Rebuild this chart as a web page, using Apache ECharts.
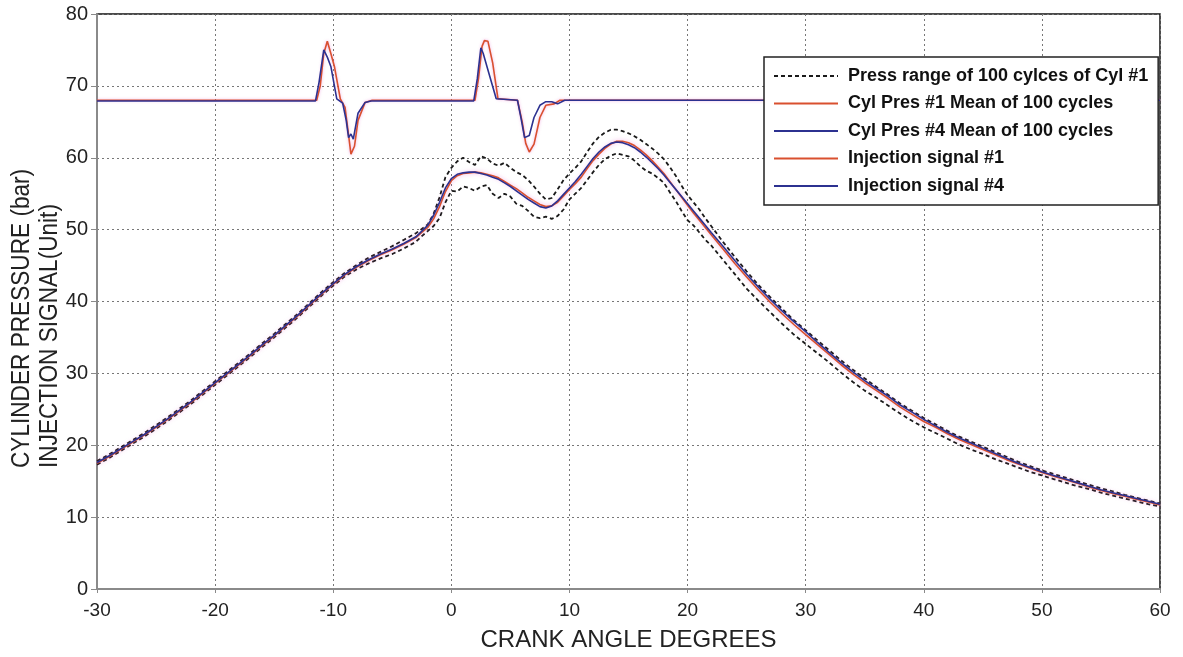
<!DOCTYPE html>
<html>
<head>
<meta charset="utf-8">
<script src="https://cdn.jsdelivr.net/npm/echarts@6/dist/echarts.min.js"></script>
<style>html,body{margin:0;padding:0;background:#fff;}#c{width:1183px;height:657px;}</style>
</head>
<body>
<div id="c"></div>
<script>
// ---- data ----
const angles = [-30,-29,-28,-27,-26,-25,-24,-23,-22,-21,-20,-19,-18,-17,-16,-15,-14,-13,-12,-11,-10,-9,-8,-7,-6,-5,-4,
  -3,-2.5,-2,-1.5,-1,-0.5,0,0.5,1,1.5,2,2.5,3,3.5,4,4.5,5,5.5,6,6.5,7,7.5,8,8.5,9,9.5,10,10.5,11,11.5,12,12.5,13,13.5,14,14.5,15,15.5,16,16.5,17,17.5,18,18.5,19,19.5,20,20.5,21,21.5,22,
  23,24,25,26,27,28,29,30,31,32,33,34,35,36,37,38,39,40,41,42,43,44,45,46,47,48,49,50,51,52,53,54,55,56,57,58,59,60];

const meanCyl1 = [17.5,18.4,19.4,20.4,21.4,22.5,23.6,24.8,26.0,27.3,28.6,29.9,31.2,32.5,33.9,35.2,36.6,38.0,39.5,41.0,42.4,43.7,44.8,45.7,46.5,47.2,48.0,
  48.9,49.6,50.3,51.5,53.2,55.3,56.8,57.5,57.8,57.9,58.0,57.9,57.7,57.5,57.2,56.7,56.2,55.7,55.1,54.5,54.0,53.5,53.2,53.3,53.8,54.7,55.6,56.4,57.3,58.5,59.6,60.5,61.3,61.9,62.3,62.3,62.1,61.7,61.1,60.4,59.6,58.7,57.8,56.7,55.6,54.5,53.4,52.3,51.3,50.3,49.3,
  47.3,45.3,43.4,41.6,39.9,38.3,36.8,35.4,34.0,32.6,31.2,29.9,28.7,27.6,26.5,25.3,24.3,23.3,22.5,21.6,20.8,20.1,19.4,18.7,18.0,17.4,16.8,16.2,15.7,15.2,14.7,14.2,13.7,13.3,12.9,12.5,12.1,11.7];

const meanCyl4 = [17.6,18.5,19.5,20.5,21.5,22.6,23.7,24.9,26.1,27.4,28.7,30.0,31.3,32.6,34.0,35.3,36.7,38.1,39.6,41.1,42.5,43.8,44.9,45.8,46.6,47.3,48.1,
  49.0,49.8,50.6,52.0,53.8,55.8,57.1,57.7,57.9,58.0,58.0,57.8,57.6,57.3,57.0,56.5,56.0,55.4,54.8,54.2,53.7,53.2,53.0,53.3,54.0,54.9,55.8,56.7,57.7,58.8,59.9,60.8,61.5,62.0,62.2,62.1,61.8,61.4,60.8,60.1,59.3,58.5,57.6,56.6,55.6,54.6,53.6,52.6,51.6,50.6,49.6,
  47.7,45.7,43.8,42.0,40.3,38.7,37.2,35.8,34.3,32.9,31.5,30.2,29.0,27.9,26.8,25.6,24.6,23.6,22.7,21.8,21.0,20.3,19.6,18.9,18.2,17.5,16.9,16.3,15.8,15.3,14.8,14.3,13.8,13.4,13.0,12.6,12.2,11.8];

const rangeUpper = [17.8,18.7,19.7,20.7,21.7,22.8,23.9,25.1,26.3,27.6,28.9,30.2,31.5,32.8,34.2,35.5,36.9,38.3,39.8,41.3,42.7,44.0,45.1,46.1,46.9,47.7,48.6,
  49.5,50.1,50.7,52.2,54.5,57.3,58.6,59.5,60.0,59.4,59.0,60.2,59.9,59.2,58.9,59.3,58.6,58.0,57.6,56.9,56.0,55.0,54.2,54.4,55.6,56.9,57.8,58.6,59.5,60.8,62.0,62.9,63.5,63.9,63.9,63.7,63.4,63.0,62.5,61.9,61.3,60.6,59.8,58.7,57.5,56.1,54.8,53.8,52.8,51.6,50.5,
  48.3,46.2,44.2,42.3,40.6,39.0,37.4,36.0,34.6,33.2,31.8,30.5,29.3,28.1,27.0,25.8,24.8,23.8,22.9,22.0,21.2,20.5,19.8,19.1,18.4,17.7,17.1,16.5,16.0,15.5,15.0,14.5,14.0,13.6,13.1,12.7,12.3,11.9];

const rangeLower = [17.3,18.2,19.2,20.2,21.2,22.3,23.4,24.6,25.8,27.1,28.4,29.7,31.0,32.3,33.7,35.0,36.4,37.8,39.3,40.8,42.2,43.5,44.5,45.3,46.0,46.6,47.4,
  48.3,49.1,49.8,50.5,51.6,53.8,55.4,55.3,56.0,55.8,55.4,56.0,56.2,55.0,54.4,55.0,54.6,53.6,53.3,52.6,51.8,51.6,51.8,51.5,51.9,52.8,54.2,55.0,55.8,56.9,58.0,59.0,59.8,60.3,60.6,60.4,60.2,59.6,58.8,58.2,57.8,57.2,56.5,55.2,54.0,52.6,51.3,50.6,49.6,48.6,47.8,
  45.8,43.8,41.8,40.1,38.5,36.9,35.4,34.1,32.8,31.5,30.1,28.8,27.6,26.6,25.5,24.4,23.4,22.5,21.7,20.9,20.1,19.4,18.8,18.1,17.5,16.9,16.3,15.8,15.3,14.8,14.3,13.9,13.4,13.0,12.6,12.2,11.8,11.5];

const injAngle1 = [-30,-11.4,-11.1,-10.8,-10.5,-10.2,-9.9,-9.6,-9.4,-9.0,-8.75,-8.5,-8.2,-7.9,-7.3,-6.7,2.0,2.3,2.6,2.8,3.1,3.5,3.95,5.6,6.0,6.3,6.6,7.0,7.5,8.0,8.7,9.2,60];
const injSignal1 = [68,68,70,74.5,76.2,74.5,72.7,70,68.2,67.0,63.8,60.5,61.6,65.2,67.7,68,68,71,75.5,76.3,76.2,73.2,68.2,68,65,62,60.8,61.9,65.6,67.3,67.5,68,68];
const injAngle4 = [-30,-11.5,-11.2,-10.8,-10.5,-10.2,-9.7,-9.2,-8.9,-8.7,-8.5,-8.3,-7.9,-7.3,-6.8,1.9,2.2,2.5,2.7,3.1,3.8,5.6,5.9,6.2,6.6,7.0,7.5,8.0,8.5,9.0,9.6,60];
const injSignal4 = [67.9,67.9,70.5,75.0,74.0,72.7,68.2,67.6,65.2,62.8,63.3,62.6,66.2,67.7,67.9,67.9,71,75.3,74.5,72.2,68.2,68.0,65.5,62.8,63.1,65.6,67.3,67.8,67.8,67.5,68,68];

const xTicks = {min: -30, max: 60, step: 10};
const yTicks = {min: 0, max: 80, step: 10};

const names = {
  range: 'Press range of 100 cylces of Cyl #1',
  mean1: 'Cyl Pres #1 Mean of 100 cycles',
  mean4: 'Cyl Pres #4 Mean of 100 cycles',
  inj1: 'Injection signal #1',
  inj4: 'Injection signal #4'
};
const yTitle = ['CYLINDER PRESSURE (bar)', 'INJECTION SIGNAL(Unit)'];
const xTitle = 'CRANK ANGLE DEGREES';

// ---- build ----
const zip = (xs, ys) => xs.map((x, i) => [x, ys[i]]);
const RED = '#d9502f', BLUE = '#2c3190';
const FONT = '"Liberation Sans", Arial, sans-serif';

const chart = echarts.init(document.getElementById('c'), null, {renderer: 'canvas'});
chart.setOption({
  backgroundColor: '#fff',
  animation: false,
  grid: {left: 97, right: 23, top: 14, bottom: 67, show: true, borderColor: '#111', borderWidth: 1.5, backgroundColor: 'transparent'},
  xAxis: {
    type: 'value', min: xTicks.min, max: xTicks.max, interval: xTicks.step,
    name: xTitle, nameLocation: 'middle', nameGap: 39,
    nameTextStyle: {fontFamily: FONT, fontSize: 24, color: '#222'},
    axisLine: {onZero: false, lineStyle: {color: '#8a8a8a', width: 2}},
    axisTick: {show: true, length: 4, lineStyle: {color: '#8a8a8a'}},
    axisLabel: {fontFamily: FONT, fontSize: 19, color: '#222', margin: 12},
    splitLine: {show: true, lineStyle: {color: '#777', type: [2, 3], width: 1}}
  },
  yAxis: {
    type: 'value', min: yTicks.min, max: yTicks.max, interval: yTicks.step,
    axisLine: {show: true, onZero: false, lineStyle: {color: '#8a8a8a', width: 2}},
    axisTick: {show: true, length: 6, lineStyle: {color: '#8a8a8a'}},
    axisLabel: {fontFamily: FONT, fontSize: 20, color: '#222', margin: 9},
    splitLine: {show: true, lineStyle: {color: '#777', type: [2, 3], width: 1}}
  },
  graphic: [{
    type: 'text', x: 22, y: 468, rotation: Math.PI / 2, scaleX: 0.87,
    style: {text: yTitle[0], font: '26px ' + FONT, fill: '#222', align: 'left', verticalAlign: 'middle'}
  }, {
    type: 'text', x: 50, y: 468, rotation: Math.PI / 2, scaleX: 0.87,
    style: {text: yTitle[1], font: '26px ' + FONT, fill: '#222', align: 'left', verticalAlign: 'middle'}
  }],
  legend: {
    orient: 'vertical', left: 764, top: 57, z: 20,
    backgroundColor: '#fff', borderColor: '#222', borderWidth: 1.5,
    padding: [10, 10, 10, 9], itemGap: 9.5, itemWidth: 64, itemHeight: 18,
    itemStyle: {opacity: 0},
    textStyle: {fontFamily: FONT, fontWeight: 'bold', fontSize: 18, lineHeight: 18, color: '#111', padding: [0, 0, 0, 5]},
    data: [names.range, names.mean1, names.mean4, names.inj1, names.inj4]
  },
  series: [
    {name: names.range, type: 'line', symbol: 'none', data: zip(angles, rangeUpper), lineStyle: {color: '#1a1a1a', width: 1.8, type: [4, 3]}, itemStyle: {color: '#1a1a1a'}, z: 2},
    {name: names.range, type: 'line', symbol: 'none', data: zip(angles, rangeLower), lineStyle: {color: '#1a1a1a', width: 1.8, type: [4, 3]}, itemStyle: {color: '#1a1a1a'}, z: 2},
    {name: names.mean1, type: 'line', symbol: 'none', data: zip(angles, meanCyl1), lineStyle: {color: RED, width: 1.6, shadowColor: 'rgba(230,90,200,0.55)', shadowBlur: 4}, itemStyle: {color: RED}, z: 3},
    {name: names.mean4, type: 'line', symbol: 'none', data: zip(angles, meanCyl4), lineStyle: {color: BLUE, width: 1.6}, itemStyle: {color: BLUE}, z: 4},
    {name: names.inj1, type: 'line', symbol: 'none', data: zip(injAngle1, injSignal1), lineStyle: {color: RED, width: 1.6, shadowColor: 'rgba(230,90,200,0.5)', shadowBlur: 3}, itemStyle: {color: RED}, z: 3},
    {name: names.inj4, type: 'line', symbol: 'none', data: zip(injAngle4, injSignal4), lineStyle: {color: BLUE, width: 1.6}, itemStyle: {color: BLUE}, z: 4}
  ]
});
</script>
</body>
</html>
